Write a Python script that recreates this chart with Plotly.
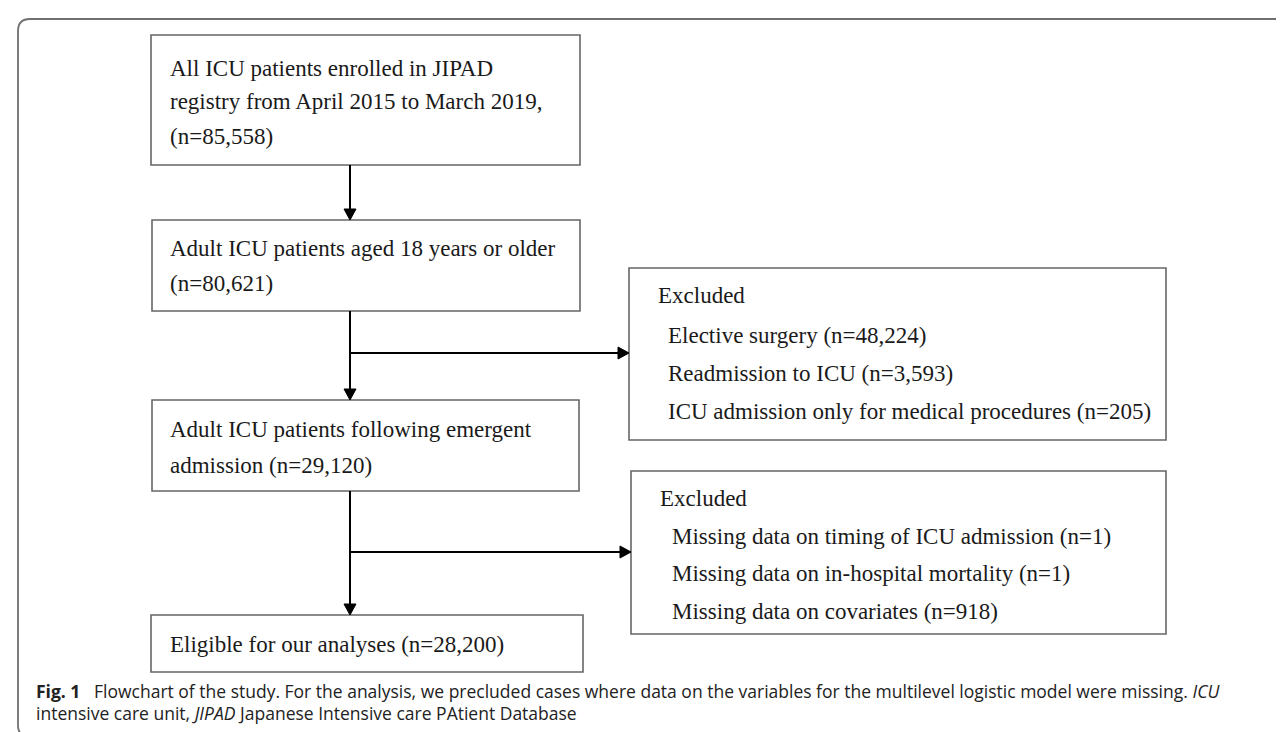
import plotly.graph_objects as go

stage_texts = [
    ["All ICU patients enrolled in JIPAD", "registry from April 2015 to March 2019,", "(n={n})"],
    ["Adult ICU patients aged 18 years or older", "(n={n})"],
    ["Adult ICU patients following emergent", "admission (n={n})"],
    ["Eligible for our analyses (n={n})"],
]
stage_counts = [85558, 80621, 29120, 28200]

excl1_reasons = ["Elective surgery", "Readmission to ICU", "ICU admission only for medical procedures"]
excl1_counts = [48224, 3593, 205]
excl2_reasons = ["Missing data on timing of ICU admission", "Missing data on in-hospital mortality",
                 "Missing data on covariates"]
excl2_counts = [1, 1, 918]

caption_line1 = ("<b>Fig. 1</b>\u00a0\u00a0\u00a0Flowchart of the study. For the analysis, we precluded cases where data on the "
                 "variables for the multilevel logistic model were missing. <i>ICU</i>")
caption_line2 = "intensive care unit, <i>JIPAD</i> Japanese Intensive care PAtient Database"

# ---- layout geometry ----
W, H = 1284, 732
stage_boxes = [(143, 27, 572, 157), (144, 212, 572, 303), (144, 392, 571, 483), (143, 607, 575, 664)]
stage_line_y = [[60, 93, 128], [240, 275], [421, 457], [636]]
excl_boxes = [(621, 260, 1158, 432), (623, 463, 1158, 626)]
excl_title_y = [287, 490]
excl_item_y = [[327, 365, 403], [528, 565, 603]]
excl_title_x = [648, 650]
excl_item_x = [658, 662]
trunk_x = 342
branch_y = [345, 544]

SERIF = "Liberation Serif, Times New Roman, serif"
BOX_COL = "#666666"
TXT_COL = "#1a1a1a"

fig = go.Figure()
shapes = []
annotations = []

# outer frame (open on the right, rounded on the left)
r = 12
shapes.append(dict(type="path", xref="x", yref="y",
                   path=f"M {W+5},11 L {10+r},11 Q 10,11 10,{11+r} L 10,{729-r} Q 10,729 {10+r},729 L {W+5},729",
                   line=dict(color="#707070", width=1.8)))

def box(x0, y0, x1, y1):
    shapes.append(dict(type="rect", xref="x", yref="y", x0=x0, y0=y0, x1=x1, y1=y1,
                       line=dict(color=BOX_COL, width=1.6), fillcolor="white"))

def text(x, y, s, size=23, font=SERIF, color=TXT_COL):
    annotations.append(dict(x=x, y=y, xref="x", yref="y", text=s, showarrow=False,
                            xanchor="left", yanchor="middle",
                            font=dict(family=font, size=size, color=color)))

def line(x0, y0, x1, y1):
    shapes.append(dict(type="line", xref="x", yref="y", x0=x0, y0=y0, x1=x1, y1=y1,
                       line=dict(color="black", width=2)))

def head(x, y, direction):
    L, hw = 11, 6
    if direction == "down":
        p = f"M {x},{y} L {x-hw},{y-L} L {x+hw},{y-L} Z"
    else:
        p = f"M {x},{y} L {x-L},{y-hw} L {x-L},{y+hw} Z"
    shapes.append(dict(type="path", xref="x", yref="y", path=p,
                       fillcolor="black", line=dict(color="black", width=1)))

# main stages
for (x0, y0, x1, y1), lines, ys, n in zip(stage_boxes, stage_texts, stage_line_y, stage_counts):
    box(x0, y0, x1, y1)
    for s, yy in zip(lines, ys):
        text(160, yy, s.format(n=f"{n:,}"))

# exclusion boxes
for (bx, title_y, items_y, tx, ix, reasons, counts) in zip(
        excl_boxes, excl_title_y, excl_item_y, excl_title_x, excl_item_x,
        [excl1_reasons, excl2_reasons], [excl1_counts, excl2_counts]):
    box(*bx)
    text(tx, title_y, "Excluded")
    for rsn, c, yy in zip(reasons, counts, items_y):
        text(ix, yy, f"{rsn} (n={c:,})")

# arrows between stages
for i in range(3):
    top = stage_boxes[i][3]
    bottom = stage_boxes[i + 1][1]
    line(trunk_x, top, trunk_x, bottom - 10)
    head(trunk_x, bottom, "down")

# side arrows to exclusion boxes
for by, bx in zip(branch_y, excl_boxes):
    line(trunk_x, by, bx[0] - 10, by)
    head(bx[0], by, "right")

# caption
CAP = "Myriad Pro, Open Sans, Noto Sans, sans-serif"
text(26, 683, caption_line1, size=17.5, font=CAP, color="#222")
text(26, 705, caption_line2, size=17.5, font=CAP, color="#222")

fig.update_layout(
    width=W, height=H, margin=dict(l=0, r=0, t=0, b=0),
    paper_bgcolor="white", plot_bgcolor="white",
    xaxis=dict(range=[0, W], visible=False, fixedrange=True),
    yaxis=dict(range=[H, 0], visible=False, fixedrange=True),
    shapes=shapes, annotations=annotations, showlegend=False,
)
fig.write_html("out.html")
